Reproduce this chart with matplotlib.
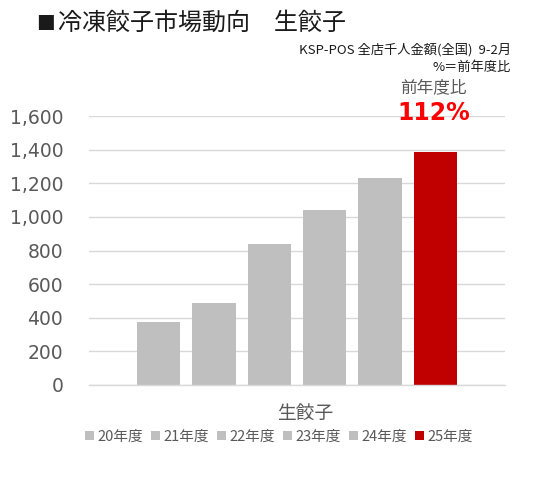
import matplotlib
matplotlib.use("Agg")
import matplotlib.pyplot as plt
from matplotlib.patches import Patch

plt.rcParams['font.family'] = ['Noto Sans CJK JP', 'DejaVu Sans']

series = ["20年度", "21年度", "22年度", "23年度", "24年度", "25年度"]
values = [372, 490, 836, 1038, 1234, 1388]
colors = ["#BFBFBF"] * 5 + ["#C00000"]
category = "生餃子"
yticks = [0, 200, 400, 600, 800, 1000, 1200, 1400, 1600]

fig = plt.figure(figsize=(5.36, 4.79), dpi=100)
ax = fig.add_axes([89/536, 1-385/479, (505-89)/536, (385-116)/479])

xs = list(range(len(series)))
ax.bar(xs, values, width=0.785, color=colors, zorder=3)
ax.set_xlim(-1.254, 6.254)
ax.set_ylim(0, 1600)
ax.set_yticks(yticks)
ax.set_yticklabels([f"{v:,}" for v in yticks], family='DejaVu Sans',
                   fontsize=13.5, color="#595959")
ax.tick_params(axis='y', length=0, pad=18.5)
ax.set_xticks([])
for s in ax.spines.values():
    s.set_visible(False)
ax.grid(axis='y', color="#D9D9D9", linewidth=1, zorder=0)
ax.axhline(0, color="#D9D9D9", linewidth=1, zorder=4, clip_on=False)
ax.set_axisbelow(True)

fig.text(36/536, 1-24/479, "■", fontsize=13.5,
         color="#1a1a1a", va='center', ha='left')
fig.text(58/536, 1-23/479, "冷凍餃子市場動向　生餃子", fontsize=17.3,
         color="#1a1a1a", va='center', ha='left')
fig.text(511/536, 1-50/479, "KSP-POS 全店千人金額(全国)  9-2月", fontsize=9.5,
         color="#1a1a1a", va='center', ha='right')
fig.text(511/536, 1-67/479, "%＝前年度比", fontsize=9.5,
         color="#1a1a1a", va='center', ha='right')
fig.text(433/536, 1-88/479, "前年度比", fontsize=12,
         color="#595959", va='center', ha='center')
fig.text(434/536, 1-113/479, "112%", fontsize=17, fontweight='bold',
         color="#FF0000", va='center', ha='center', family='DejaVu Sans')

fig.text(305/536, 1-413/479, category, fontsize=13.5,
         color="#595959", va='center', ha='center')

handles = [Patch(facecolor=c, edgecolor='none') for c in colors]
fig.legend(handles, series, loc='center', bbox_to_anchor=(279/536, 1-437/479),
           ncol=6, frameon=False, fontsize=10.5, handlelength=0.6,
           handleheight=0.6, handletextpad=0.25, columnspacing=0.55,
           labelcolor="#595959")

fig.savefig("out.png", dpi=100)
